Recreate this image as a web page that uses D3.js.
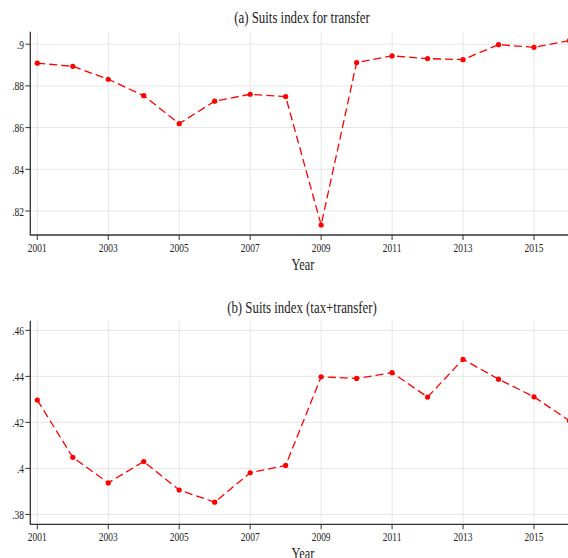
<!DOCTYPE html>
<html>
<head>
<meta charset="utf-8">
<title>Suits index</title>
<style>
  body { margin: 0; background: #fff; }
  text { font-family: "Liberation Serif", "DejaVu Serif", serif; fill: #222; }
</style>
</head>
<body>
<script src="https://cdn.jsdelivr.net/npm/d3@7"></script>
<script>
// years and series
var years = [2001, 2002, 2003, 2004, 2005, 2006, 2007, 2008, 2009, 2010, 2011, 2012, 2013, 2014, 2015, 2016];
var transfer = [.8909, .8894, .8832, .8753, .8619, .8727, .8760, .8749, .8133, .8912, .8944, .8931, .8926, .8998, .8985, .9017];
var taxTransfer = [.4297, .4048, .3937, .4030, .3906, .3853, .3981, .4013, .4398, .4391, .4416, .4310, .4474, .4388, .4311, .4207];
var xTicks = [2001, 2003, 2005, 2007, 2009, 2011, 2013, 2015];
var yTicksA = [.82, .84, .86, .88, .9];
var yTicksB = [.38, .4, .42, .44, .46];

var width = 568, height = 558;
var svg = d3.select("body").append("svg")
    .attr("width", width)
    .attr("height", height);

var squeeze = 0.7; // text in the picture is narrow

var x = d3.scaleLinear().domain([2001, 2015]).range([37.3, 534]);
var fmt = function (v) { return d3.format(".2f")(v).replace(/^0/, "").replace(/0$/, ""); };

function panel(opts) {
    var y = d3.scaleLinear().domain(opts.domain).range([opts.bottom, opts.top]);
    var g = svg.append("g");
    var left = 30.3;

    // grid
    g.selectAll(".hg").data(opts.yTicks).enter().append("line")
        .attr("x1", left).attr("x2", width)
        .attr("y1", function (d) { return y(d); })
        .attr("y2", function (d) { return y(d); })
        .attr("stroke", "#e6e6e6").attr("stroke-width", 1);
    g.selectAll(".vg").data(xTicks).enter().append("line")
        .attr("x1", function (d) { return x(d); })
        .attr("x2", function (d) { return x(d); })
        .attr("y1", opts.top).attr("y2", opts.bottom)
        .attr("stroke", "#e6e6e6").attr("stroke-width", 1);

    // axes
    g.append("line").attr("x1", left).attr("x2", left)
        .attr("y1", opts.top).attr("y2", opts.bottom + 0.5)
        .attr("stroke", "#333").attr("stroke-width", 1.3);
    g.append("line").attr("x1", left).attr("x2", width)
        .attr("y1", opts.bottom).attr("y2", opts.bottom)
        .attr("stroke", "#333").attr("stroke-width", 1.3);

    g.selectAll(".yt").data(opts.yTicks).enter().append("line")
        .attr("x1", left - 5).attr("x2", left)
        .attr("y1", function (d) { return y(d); })
        .attr("y2", function (d) { return y(d); })
        .attr("stroke", "#333");
    g.selectAll(".xt").data(xTicks).enter().append("line")
        .attr("x1", function (d) { return x(d); })
        .attr("x2", function (d) { return x(d); })
        .attr("y1", opts.bottom).attr("y2", opts.bottom + 5)
        .attr("stroke", "#333");

    g.selectAll(".yl").data(opts.yTicks).enter().append("text")
        .attr("transform", function (d) { return "translate(24," + (y(d) + 4.5) + ") scale(" + squeeze + ",1)"; })
        .attr("text-anchor", "end")
        .attr("font-size", 13.5)
        .text(fmt);
    g.selectAll(".xl").data(xTicks).enter().append("text")
        .attr("transform", function (d) { return "translate(" + x(d) + "," + (opts.bottom + 17) + ") scale(" + squeeze + ",1)"; })
        .attr("text-anchor", "middle")
        .attr("font-size", 13.5)
        .text(function (d) { return d; });

    g.append("text")
        .attr("transform", "translate(303," + (opts.bottom + 35) + ") scale(0.75,1)")
        .attr("text-anchor", "middle")
        .attr("font-size", 16.5)
        .text("Year");
    g.append("text")
        .attr("transform", "translate(302," + opts.titleY + ") scale(0.78,1)")
        .attr("text-anchor", "middle")
        .attr("font-size", 16.5)
        .text(opts.title);

    var pts = years.map(function (d, i) { return [d, opts.values[i]]; });
    var line = d3.line()
        .x(function (d) { return x(d[0]); })
        .y(function (d) { return y(d[1]); });
    g.append("path")
        .attr("d", line(pts))
        .attr("fill", "none")
        .attr("stroke", "#ff0000")
        .attr("stroke-width", 1.3)
        .attr("stroke-dasharray", "8,4");
    g.selectAll(".pt").data(pts).enter().append("circle")
        .attr("cx", function (d) { return x(d[0]); })
        .attr("cy", function (d) { return y(d[1]); })
        .attr("r", 2.6)
        .attr("fill", "#ff0000");
}

panel({
    title: "(a) Suits index for transfer",
    titleY: 23,
    values: transfer,
    yTicks: yTicksA,
    domain: [.8085, .906],
    top: 31.7,
    bottom: 235
});
panel({
    title: "(b) Suits index (tax+transfer)",
    titleY: 313,
    values: taxTransfer,
    yTicks: yTicksB,
    domain: [.3757, .4642],
    top: 320.7,
    bottom: 524.3
});
</script>
</body>
</html>
